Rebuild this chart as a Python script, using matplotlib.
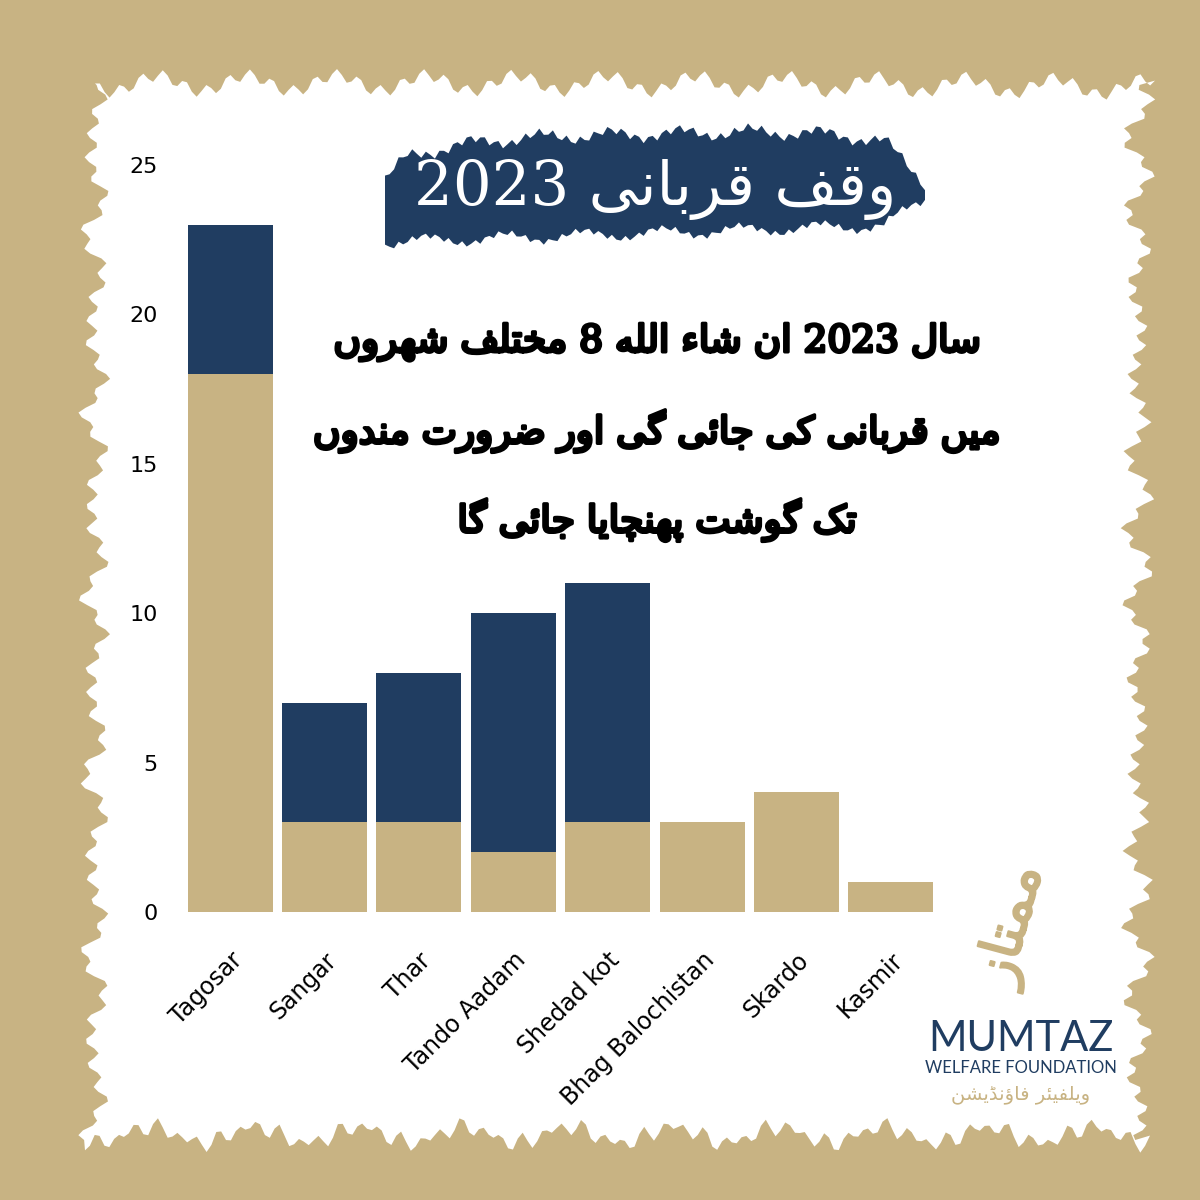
import numpy as np
import matplotlib
matplotlib.use("Agg")
import matplotlib.pyplot as plt
import matplotlib.patheffects as pe
from matplotlib import font_manager
from matplotlib.ft2font import FT2Font
from matplotlib.patches import Polygon

# data
cities = ["Tagosar", "Sangar", "Thar", "Tando Aadam", "Shedad kot",
          "Bhag Balochistan", "Skardo", "Kasmir"]
tan_vals = [18, 3, 3, 2, 3, 3, 4, 1]
navy_vals = [5, 4, 5, 8, 8, 0, 0, 0]
y_ticks = [0, 5, 10, 15, 20, 25]

title_text = "وقف قربانی 2023"
body_lines = ["سال 2023 ان شاء اللہ 8 مختلف شہروں",
              "میں قربانی کی جائے گی اور ضرورت مندوں",
              "تک گوشت پہنچایا جائے گا"]
logo_mark = "ممتاز"
logo_urdu = "ویلفیئر فاؤنڈیشن"

TAN = "#c8b383"
NAVY = "#203d61"

# --- tiny arabic/urdu shaper (matplotlib has no shaping engine) ---
# char: (isolated, final, initial, medial)
FORMS = {
    "\u0627": ("\uFE8D", "\uFE8E", None, None),
    "\u0628": ("\uFE8F", "\uFE90", "\uFE91", "\uFE92"),
    "\u067E": ("\uFB56", "\uFB57", "\uFB58", "\uFB59"),
    "\u062A": ("\uFE95", "\uFE96", "\uFE97", "\uFE98"),
    "\u062C": ("\uFE9D", "\uFE9E", "\uFE9F", "\uFEA0"),
    "\u0686": ("\uFB7A", "\uFB7B", "\uFB7C", "\uFB7D"),
    "\u062E": ("\uFEA5", "\uFEA6", "\uFEA7", "\uFEA8"),
    "\u062F": ("\uFEA9", "\uFEAA", None, None),
    "\u0688": ("\uFB88", "\uFB89", None, None),
    "\u0631": ("\uFEAD", "\uFEAE", None, None),
    "\u0632": ("\uFEAF", "\uFEB0", None, None),
    "\u0633": ("\uFEB1", "\uFEB2", "\uFEB3", "\uFEB4"),
    "\u0634": ("\uFEB5", "\uFEB6", "\uFEB7", "\uFEB8"),
    "\u0636": ("\uFEBD", "\uFEBE", "\uFEBF", "\uFEC0"),
    "\u0641": ("\uFED1", "\uFED2", "\uFED3", "\uFED4"),
    "\u0642": ("\uFED5", "\uFED6", "\uFED7", "\uFED8"),
    "\u06A9": ("\uFB8E", "\uFB8F", "\uFB90", "\uFB91"),
    "\u06AF": ("\uFB92", "\uFB93", "\uFB94", "\uFB95"),
    "\u0644": ("\uFEDD", "\uFEDE", "\uFEDF", "\uFEE0"),
    "\u0645": ("\uFEE1", "\uFEE2", "\uFEE3", "\uFEE4"),
    "\u0646": ("\uFEE5", "\uFEE6", "\uFEE7", "\uFEE8"),
    "\u06BA": ("\uFB9E", "\uFB9F", None, None),
    "\u0648": ("\uFEED", "\uFEEE", None, None),
    "\u0624": ("\uFE85", "\uFE86", None, None),
    "\u06C1": ("\uFBA6", "\uFBA7", "\uFBA8", "\uFBA9"),
    "\u0647": ("\uFEE9", "\uFEEA", "\uFEEB", "\uFEEC"),
    "\u06BE": ("\uFBAA", "\uFBAB", "\uFBAC", "\uFBAD"),
    "\u06CC": ("\uFBFC", "\uFBFD", "\uFBFE", "\uFBFF"),
    "\u0626": ("\uFE89", "\uFE8A", "\uFE8B", "\uFE8C"),
    "\u06D2": ("\uFBAE", "\uFBAF", None, None),
    "\u0649": ("\uFEEF", "\uFEF0", None, None),
    "\u0621": ("\uFE80", None, None, None),
}
# closest available letter when no installed font has the urdu form
SUBST = {"\u06C1": "\u0647", "\u06D2": "\u0649"}

_ft = FT2Font(font_manager.findfont(font_manager.FontProperties(family="DejaVu Sans")))


def has_glyph(ch):
    return _ft.get_char_index(ord(ch)) != 0


def pick(c, idx):
    g = FORMS[c][idx]
    if g and has_glyph(g):
        return g
    if c in SUBST:
        g = FORMS[SUBST[c]][idx]
        if g and has_glyph(g):
            return g
    return c


def shape(text):
    out = []
    i = 0
    n = len(text)
    while i < n:
        c = text[i]
        if c not in FORMS:
            out.append(c)
            i += 1
            continue
        prev = text[i - 1] if i > 0 else ""
        prev_join = prev in FORMS and FORMS[prev][2] is not None
        nxt = text[i + 1] if i + 1 < n else ""
        if c == "\u0644" and nxt == "\u0627":
            out.append("\uFEFC" if prev_join else "\uFEFB")
            i += 2
            continue
        iso, fin, ini, med = FORMS[c]
        next_join = nxt in FORMS and ini is not None and FORMS[nxt][1] is not None
        if prev_join and next_join:
            out.append(pick(c, 3))
        elif prev_join and fin:
            out.append(pick(c, 1))
        elif next_join:
            out.append(pick(c, 2))
        else:
            out.append(pick(c, 0))
        i += 1
    s = "".join(out)
    # visual order: reverse, keep digit runs left to right
    tokens = []
    for ch in s:
        if ch.isdigit() and tokens and tokens[-1][0].isdigit():
            tokens[-1] += ch
        else:
            tokens.append(ch)
    return "".join(reversed(tokens))


fig = plt.figure(figsize=(12, 12), dpi=100)
fig.patch.set_facecolor(TAN)

# background layer in pixel coords
bg = fig.add_axes([0, 0, 1, 1], zorder=0)
bg.set_xlim(0, 1200)
bg.set_ylim(1200, 0)
bg.axis("off")

# rough white paper
t = np.linspace(0, 1, 220)
top_x = 95 + t * 1060
top_y = 88 + 8 * np.sin(top_x * 0.07) + 6 * np.sin(top_x * 0.29 + 1.3) + 5 * np.sin(top_x * 1.3)
right_y = 85 + t * 1055
right_x = 1138 + 8 * np.sin(right_y * 0.08) + 6 * np.sin(right_y * 0.33 + 0.4) + 4 * np.sin(right_y * 1.4)
bot_x = 1150 - t * 1065
bot_y = 1135 + 8 * np.sin(bot_x * 0.06 + 2) + 6 * np.sin(bot_x * 0.31) + 4 * np.sin(bot_x * 1.5)
left_y = 1140 - t * 1055
left_x = 95 + 7 * np.sin(left_y * 0.07 + 0.7) + 6 * np.sin(left_y * 0.27) + 4 * np.sin(left_y * 1.2)
paper = np.vstack([np.column_stack([top_x, top_y]), np.column_stack([right_x, right_y]),
                   np.column_stack([bot_x, bot_y]), np.column_stack([left_x, left_y])])
bg.add_patch(Polygon(paper, closed=True, facecolor="white", edgecolor="none"))

# navy brush banner behind the title
u = np.linspace(0, 1, 120)
bx = 385 + u * 540
b_top = 140 + 5 * np.sin(bx * 0.09) + 4 * np.sin(bx * 0.45 + 1) - 12 * u + 25 * (u - 0.5) ** 4 * 16
b_bot = 242 + 5 * np.sin(bx * 0.08 + 2) + 3 * np.sin(bx * 0.5) - 18 * u
b_top[-10:] += np.linspace(0, 30, 10)
b_bot[-10:] -= np.linspace(0, 25, 10)
b_top[:6] += np.linspace(15, 0, 6)
brush = np.vstack([np.column_stack([bx, b_top]), np.column_stack([bx[::-1], b_bot[::-1]])])
bg.add_patch(Polygon(brush, closed=True, facecolor=NAVY, edgecolor="none"))

# chart
ax = fig.add_axes([183 / 1200, 1 - 912 / 1200, 755 / 1200, 747 / 1200], zorder=2)
ax.patch.set_alpha(0)
x = np.arange(len(cities))
ax.bar(x, tan_vals, width=0.9, color=TAN, zorder=2)
ax.bar(x, navy_vals, width=0.9, bottom=tan_vals, color=NAVY, zorder=2)
ax.set_xlim(-0.5, 7.5)
ax.set_ylim(0, 25)
ax.set_yticks(y_ticks)
ax.set_yticklabels([str(v) for v in y_ticks], fontsize=16)
ax.set_xticks(x)
ax.set_xticklabels(cities, rotation=45, ha="right", rotation_mode="anchor", fontsize=17)
ax.tick_params(axis="y", length=0, pad=18)
ax.tick_params(axis="x", length=0, pad=26)
for sp in ax.spines.values():
    sp.set_visible(False)

# title and urdu body text
fig.text(655 / 1200, 1 - 190 / 1200, shape(title_text), color="white", fontsize=44,
         family=["DejaVu Serif", "DejaVu Sans"], ha="center", va="center", zorder=3)
for k, line in enumerate(body_lines):
    fig.text(657 / 1200, 1 - (342 + k * 89) / 1200, shape(line), color="black", fontsize=27,
             family=["DejaVu Serif", "DejaVu Sans"], ha="center", va="center", zorder=3,
             path_effects=[pe.withStroke(linewidth=2.4, foreground="black")])

# logo
fig.text(1012 / 1200, 1 - 925 / 1200, shape(logo_mark), color=TAN, fontsize=40,
         ha="center", va="center", rotation=75, zorder=3,
         path_effects=[pe.withStroke(linewidth=1.5, foreground=TAN)])
fig.text(1021 / 1200, 1 - 1039 / 1200, "MUMTAZ", color=NAVY, fontsize=30,
         family="Lato", ha="center", va="center", zorder=3)
fig.text(1021 / 1200, 1 - 1068 / 1200, "WELFARE FOUNDATION", color=NAVY, fontsize=12,
         family="Lato", ha="center", va="center", zorder=3)
fig.text(1021 / 1200, 1 - 1094 / 1200, shape(logo_urdu), color=TAN, fontsize=14,
         ha="center", va="center", zorder=3)

fig.savefig("out.png", dpi=100, facecolor=fig.get_facecolor())
